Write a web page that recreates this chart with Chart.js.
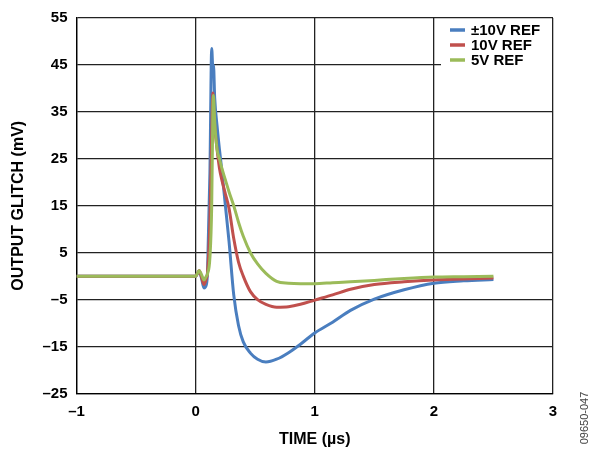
<!DOCTYPE html>
<html>
<head>
<meta charset="utf-8">
<title>Output glitch</title>
<script src="https://cdn.jsdelivr.net/npm/chart.js@4/dist/chart.umd.min.js"></script>
<style>
    html, body { margin: 0; padding: 0; background: #fff; }
    #wrap { width: 596px; height: 451px; position: relative; }
</style>
</head>
<body>
<div id="wrap"><canvas id="chart"></canvas></div>
<script>
'use strict';

// time axis, microseconds
let timeUs = [-1, -0.5, 0, 0.03, 0.05, 0.07, 0.09, 0.1, 0.12, 0.135, 0.145, 0.15, 0.16, 0.18, 0.2, 0.22, 0.25, 0.28,
    0.32, 0.36, 0.4, 0.46, 0.52, 0.59, 0.68, 0.78, 0.88, 1.0, 1.15, 1.3, 1.5, 1.75, 2.0, 2.25, 2.5];

// glitch, mV
let ref10Bipolar = [0, 0, 0, 1, -0.5, -2.5, -1.8, 1, 22, 48.5, 44, 45, 38, 32, 27, 22.5, 15, 7.5,
    -4, -10.5, -14, -16.4, -17.7, -18.3, -17.7, -16.3, -14.5, -12.1, -9.8, -7.3, -4.9, -2.9, -1.5, -1.0, -0.7];
let ref10 = [0, 0, 0, 1.2, -0.3, -1.8, -0.5, 0.8, 12, 30, 39, 36, 32, 27, 23, 20.5, 17.5, 14.5,
    8, 3, 0, -3.3, -5, -6, -6.6, -6.5, -6, -5.1, -4, -2.8, -1.8, -1.2, -0.8, -0.6, -0.4];
let ref5 = [0, 0, 0, 1.2, 0.3, -0.8, 0, 0.5, 4, 15, 36, 38.5, 33, 27, 25, 23, 20.5, 18,
    15, 11.5, 8.5, 5, 2.6, 0.6, -1.1, -1.5, -1.6, -1.6, -1.4, -1.2, -0.9, -0.5, -0.2, -0.1, 0];

let seriesNames = ['\u00b110V REF', '10V REF', '5V REF'];
let seriesColors = ['#4a7ebf', '#c0504d', '#9bbb59'];

let yTicks = [-25, -15, -5, 5, 15, 25, 35, 45, 55];
let xTicks = [-1, 0, 1, 2, 3];

const FONT = '"Liberation Sans", Arial, Helvetica, sans-serif';

function toPoints(values) {
    return timeUs.map(function (t, i) { return { x: t, y: values[i] }; });
}

function minus(v) {
    return String(v).replace('-', '\u2013');
}

// legend sits inside the plot, top right, on a white patch
let insideLegend = {
    id: 'insideLegend',
    afterDatasetsDraw: function (chart) {
        var ctx = chart.ctx;
        var area = chart.chartArea;
        ctx.save();
        ctx.fillStyle = '#fff';
        ctx.fillRect(441, area.top + 1, area.right - 442, 56);
        ctx.font = 'bold 15px ' + FONT;
        ctx.textBaseline = 'middle';
        ctx.lineWidth = 3.5;
        chart.data.datasets.forEach(function (ds, i) {
            var y = 30 + i * 15;
            ctx.strokeStyle = ds.borderColor;
            ctx.beginPath();
            ctx.moveTo(450, y);
            ctx.lineTo(465, y);
            ctx.stroke();
            ctx.fillStyle = '#000';
            ctx.fillText(ds.label, 471, y + 1);
        });
        ctx.restore();
    },
    afterDraw: function (chart) {
        var ctx = chart.ctx;
        ctx.save();
        ctx.translate(585, 418);
        ctx.rotate(-Math.PI / 2);
        ctx.font = '11px ' + FONT;
        ctx.fillStyle = '#444';
        ctx.textAlign = 'center';
        ctx.textBaseline = 'middle';
        ctx.fillText('09650-047', 0, 0);
        ctx.restore();
    }
};

function buildDatasets() {
    var all = [ref10Bipolar, ref10, ref5];
    return all.map(function (values, i) {
        return {
            label: seriesNames[i],
            data: toPoints(values),
            borderColor: seriesColors[i],
            borderWidth: 3,
            pointRadius: 0,
            cubicInterpolationMode: 'monotone',
            // green on top, blue at the bottom
            order: 3 - i
        };
    });
}

function drawChart() {
    var ctx = document.getElementById('chart').getContext('2d');
    var gridColor = '#222';

    new Chart(ctx, {
        type: 'line',
        data: { datasets: buildDatasets() },
        plugins: [insideLegend],
        options: {
            responsive: true,
            maintainAspectRatio: false,
            animation: false,
            layout: { padding: { top: 13, right: 43, bottom: 0, left: 0 } },
            plugins: {
                legend: { display: false },
                tooltip: { enabled: false }
            },
            scales: {
                x: {
                    type: 'linear',
                    min: -1,
                    max: 3,
                    afterFit: function (scale) { scale.height = 57.5; },
                    afterBuildTicks: function (scale) {
                        scale.ticks = xTicks.map(function (v) { return { value: v }; });
                    },
                    grid: { color: gridColor, lineWidth: 1.3, drawTicks: false },
                    border: { color: '#000', width: 1.3 },
                    ticks: {
                        padding: 9,
                        color: '#000',
                        font: { family: FONT, size: 15, weight: 'bold' },
                        callback: function (v) { return minus(v); }
                    },
                    title: {
                        display: true,
                        text: 'TIME (\u00b5s)',
                        color: '#000',
                        font: { family: FONT, size: 16, weight: 'bold' },
                        padding: { top: 0, bottom: 2 }
                    }
                },
                y: {
                    min: -25,
                    max: 55,
                    afterFit: function (scale) { scale.width = 76.5; },
                    afterBuildTicks: function (scale) {
                        scale.ticks = yTicks.map(function (v) { return { value: v }; });
                    },
                    grid: { color: gridColor, lineWidth: 1.3, drawTicks: false },
                    border: { color: '#000', width: 1.3 },
                    ticks: {
                        padding: 9,
                        color: '#000',
                        font: { family: FONT, size: 15, weight: 'bold' },
                        callback: function (v) { return minus(v); }
                    },
                    title: {
                        display: true,
                        text: 'OUTPUT GLITCH (mV)',
                        color: '#000',
                        font: { family: FONT, size: 16, weight: 'bold' },
                        padding: { top: 9, bottom: 0 }
                    }
                }
            }
        }
    });
}

drawChart();
</script>
</body>
</html>
